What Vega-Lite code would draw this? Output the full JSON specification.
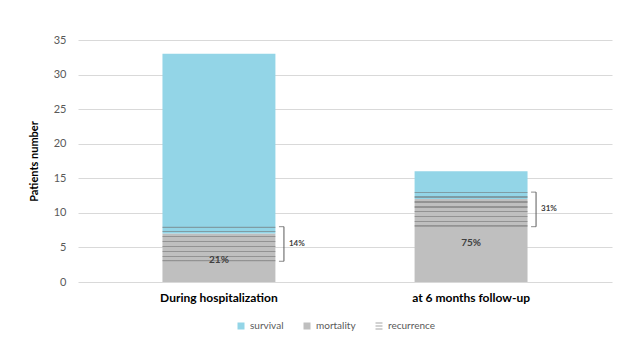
{
  "$schema": "https://vega.github.io/schema/vega-lite/v6.json",
  "width": 534,
  "height": 242,
  "autosize": "none",
  "padding": {"left": 78, "top": 40, "right": 13, "bottom": 79},
  "background": "white",
  "config": {
    "font": "Lato",
    "view": {"stroke": null},
    "axis": {"labelFont": "Lato", "titleFont": "Lato"},
    "axisY": {
      "tickCount": 7,
      "ticks": false,
      "domain": false,
      "labelPadding": 12,
      "labelFontSize": 11,
      "labelColor": "#595959",
      "gridColor": "#d9d9d9",
      "titleFontSize": 11,
      "titleFontWeight": "bold",
      "titleColor": "#000000",
      "titlePadding": 14
    },
    "legend": {"labelFont": "Lato"}
  },
  "datasets": {
    "bars": [
      {"group": "During hospitalization", "type": "mortality", "value": 7, "pct": "21%"},
      {"group": "During hospitalization", "type": "survival", "value": 26, "pct": ""},
      {"group": "at 6 months follow-up", "type": "mortality", "value": 12, "pct": "75%"},
      {"group": "at 6 months follow-up", "type": "survival", "value": 4, "pct": ""}
    ],
    "rec": [
      {"group": "During hospitalization", "type": "recurrence", "start": 3, "end": 8, "pct": "14%"},
      {"group": "at 6 months follow-up", "type": "recurrence", "start": 8, "end": 13, "pct": "31%"}
    ],
    "legend": [
      {"group": "During hospitalization", "type": "survival", "value": 0},
      {"group": "During hospitalization", "type": "mortality", "value": 0},
      {"group": "During hospitalization", "type": "recurrence", "value": 0}
    ]
  },
  "encoding": {
    "x": {
      "field": "group",
      "type": "nominal",
      "sort": null,
      "scale": {"domain": ["During hospitalization", "at 6 months follow-up"], "paddingInner": 0.552, "paddingOuter": 0.335},
      "axis": {
        "title": null,
        "labelAngle": 0,
        "ticks": false,
        "domain": false,
        "labelPadding": 10,
        "labelFontSize": 12,
        "labelFontWeight": "bold",
        "labelColor": "#000000"
      }
    }
  },
  "layer": [
    {
      "data": {"name": "bars"},
      "mark": {"type": "bar"},
      "encoding": {
        "y": {
          "field": "value",
          "type": "quantitative",
          "stack": "zero",
          "title": "Patients number",
          "scale": {"domain": [0, 35]}
        },
        "order": {"field": "type", "sort": "ascending"},
        "color": {
          "field": "type",
          "type": "nominal",
          "scale": {
            "domain": ["survival", "mortality", "recurrence"],
            "range": ["#93d5e7", "#bfbfbf", "#a6a6a6"]
          },
          "legend": {
            "title": null,
            "orient": "none",
            "direction": "horizontal",
            "legendX": 158,
            "legendY": 281,
            "symbolSize": 49,
            "symbolOpacity": 1,
            "labelFontSize": 10,
            "labelColor": "#595959",
            "columnPadding": 18,
            "symbolStrokeWidth": 0
          }
        }
      }
    },
    {
      "data": {"name": "rec"},
      "mark": {
        "type": "bar",
        "stroke": null,
        "fill": {
          "gradient": "linear",
          "x1": 0, "y1": 0, "x2": 0, "y2": 1,
          "stops": [
            {"offset": 0, "color": "rgba(110,110,110,0.55)"},
            {"offset": 0.035, "color": "rgba(110,110,110,0.55)"},
            {"offset": 0.035, "color": "rgba(0,0,0,0)"},
            {"offset": 0.125, "color": "rgba(0,0,0,0)"},
            {"offset": 0.125, "color": "rgba(110,110,110,0.55)"},
            {"offset": 0.16, "color": "rgba(110,110,110,0.55)"},
            {"offset": 0.16, "color": "rgba(0,0,0,0)"},
            {"offset": 0.268, "color": "rgba(0,0,0,0)"},
            {"offset": 0.268, "color": "rgba(110,110,110,0.55)"},
            {"offset": 0.303, "color": "rgba(110,110,110,0.55)"},
            {"offset": 0.303, "color": "rgba(0,0,0,0)"},
            {"offset": 0.411, "color": "rgba(0,0,0,0)"},
            {"offset": 0.411, "color": "rgba(110,110,110,0.55)"},
            {"offset": 0.446, "color": "rgba(110,110,110,0.55)"},
            {"offset": 0.446, "color": "rgba(0,0,0,0)"},
            {"offset": 0.554, "color": "rgba(0,0,0,0)"},
            {"offset": 0.554, "color": "rgba(110,110,110,0.55)"},
            {"offset": 0.589, "color": "rgba(110,110,110,0.55)"},
            {"offset": 0.589, "color": "rgba(0,0,0,0)"},
            {"offset": 0.696, "color": "rgba(0,0,0,0)"},
            {"offset": 0.696, "color": "rgba(110,110,110,0.55)"},
            {"offset": 0.731, "color": "rgba(110,110,110,0.55)"},
            {"offset": 0.731, "color": "rgba(0,0,0,0)"},
            {"offset": 0.839, "color": "rgba(0,0,0,0)"},
            {"offset": 0.839, "color": "rgba(110,110,110,0.55)"},
            {"offset": 0.874, "color": "rgba(110,110,110,0.55)"},
            {"offset": 0.874, "color": "rgba(0,0,0,0)"},
            {"offset": 0.965, "color": "rgba(0,0,0,0)"},
            {"offset": 0.965, "color": "rgba(110,110,110,0.55)"},
            {"offset": 1, "color": "rgba(110,110,110,0.55)"}
          ]
        }
      },
      "encoding": {
        "y": {"field": "start", "type": "quantitative", "title": "Patients number"},
        "y2": {"field": "end"}
      }
    },
    {
      "data": {"name": "legend"},
      "mark": {"type": "point", "filled": true, "opacity": 0},
      "encoding": {
        "y": {"field": "value", "type": "quantitative", "title": "Patients number"},
        "color": {"field": "type", "type": "nominal"},
        "shape": {
          "field": "type",
          "type": "nominal",
          "scale": {
            "domain": ["survival", "mortality", "recurrence"],
            "range": ["square", "square", "M-1,-1H1V-0.72H-1Z M-1,-0.14H1V0.14H-1Z M-1,0.72H1V1H-1Z"]
          },
          "legend": {
            "title": null,
            "orient": "none",
            "direction": "horizontal",
            "legendX": 158,
            "legendY": 281,
            "symbolSize": 49,
            "symbolOpacity": 1,
            "labelFontSize": 10,
            "labelColor": "#595959",
            "columnPadding": 18
          }
        }
      }
    },
    {
      "data": {"name": "rec"},
      "mark": {"type": "rule", "color": "#595959", "strokeWidth": 1, "xOffset": 65},
      "encoding": {
        "y": {"field": "start", "type": "quantitative", "title": "Patients number"},
        "y2": {"field": "end"}
      }
    },
    {
      "data": {"name": "rec"},
      "mark": {"type": "tick", "orient": "horizontal", "color": "#595959", "size": 5, "thickness": 1, "xOffset": 62.5},
      "encoding": {
        "y": {"field": "start", "type": "quantitative", "title": "Patients number"}
      }
    },
    {
      "data": {"name": "rec"},
      "mark": {"type": "tick", "orient": "horizontal", "color": "#595959", "size": 5, "thickness": 1, "xOffset": 62.5},
      "encoding": {
        "y": {"field": "end", "type": "quantitative", "title": "Patients number"}
      }
    },
    {
      "data": {"name": "rec"},
      "transform": [{"calculate": "(datum.start + datum.end) / 2", "as": "mid"}],
      "mark": {"type": "text", "align": "left", "baseline": "middle", "xOffset": 70, "fontSize": 8, "fontWeight": "bold", "color": "#404040"},
      "encoding": {
        "y": {"field": "mid", "type": "quantitative", "title": "Patients number"},
        "text": {"field": "pct"}
      }
    },
    {
      "data": {"name": "bars"},
      "transform": [
        {"filter": "datum.type === 'mortality'"},
        {"calculate": "datum.value / 2", "as": "mid"}
      ],
      "mark": {"type": "text", "align": "center", "baseline": "middle", "fontSize": 10, "fontWeight": "bold", "color": "#404040", "dy": 2},
      "encoding": {
        "y": {"field": "mid", "type": "quantitative", "title": "Patients number"},
        "text": {"field": "pct"}
      }
    }
  ]
}
